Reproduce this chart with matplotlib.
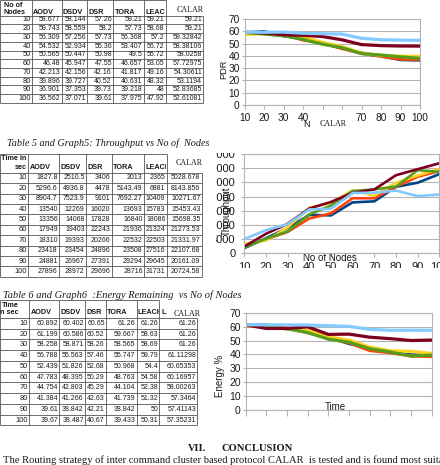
import matplotlib
matplotlib.use("Agg")
import matplotlib.pyplot as plt
from matplotlib.patches import Rectangle
from matplotlib.transforms import Bbox

W, H, DPI = 440, 465, 100
plt.rcParams['font.family'] = ['Liberation Sans', 'DejaVu Sans']

# ---------------- data ----------------
nodes = [10, 20, 30, 40, 50, 60, 70, 80, 90, 100]
protocols = ["AODV", "DSDV", "DSR", "TORA", "LEACH", "CALAR"]
colors = ["#004586", "#ff420e", "#ffd320", "#579d1c", "#7e0021", "#83caff"]

pdr_aodv = [58.677, 59.743, 56.309, 54.532, 50.565, 46.48, 42.213, 39.896, 36.901, 36.562]
pdr_dsdv = [58.144, 58.559, 57.256, 52.934, 50.447, 45.947, 42.156, 39.727, 37.353, 37.071]
pdr_dsr = [57.26, 58.2, 57.73, 55.36, 50.98, 47.55, 42.16, 40.52, 39.73, 39.61]
pdr_tora = [59.21, 57.73, 56.368, 53.407, 49.5, 46.657, 41.817, 40.631, 39.218, 37.975]
pdr_leach = [59.21, 58.68, 57.2, 56.72, 55.72, 53.05, 49.16, 48.32, 48, 47.92]
pdr_calar = [59.21, 59.21, 59.32842, 58.38106, 58.0258, 57.72975, 54.30611, 53.1194, 52.83685, 52.61081]

thr_aodv = [1827.8, 5296.6, 8904.7, 13540, 13356, 17949, 18310, 23418, 24881, 27896]
thr_dsdv = [2510.5, 4936.8, 7523.9, 12269, 14068, 19403, 19393, 23454, 26967, 28972]
thr_dsr = [3406, 4478, 9101, 16020, 17828, 22243, 20266, 24896, 27391, 29696]
thr_tora = [2013, 5143.49, 7692.27, 13693, 16840, 21936, 22532, 23508, 29294, 28716]
thr_leach = [2365, 6881, 10409, 15783, 18086, 21324, 22503, 27516, 29645, 31731]
thr_calar = [5028.678, 8143.856, 10271.67, 15453.43, 15698.35, 21273.53, 21331.97, 22107.68, 20161.09, 20724.58]

en_aodv = [60.892, 61.199, 58.258, 56.788, 52.439, 47.783, 44.754, 41.384, 39.61, 39.67]
en_dsdv = [60.402, 60.586, 58.871, 55.563, 51.826, 48.395, 42.803, 41.266, 38.842, 38.487]
en_dsr = [60.65, 60.52, 58.26, 57.46, 52.68, 50.29, 45.29, 42.63, 42.21, 40.67]
en_tora = [61.26, 59.667, 58.565, 55.747, 50.968, 48.763, 44.104, 41.739, 38.842, 39.433]
en_leach = [61.26, 58.63, 58.69, 59.79, 54.4, 54.58, 52.38, 51.32, 50, 50.31]
en_calar = [61.26, 61.26, 61.26, 61.11298, 60.65353, 60.16957, 58.00263, 57.3464, 57.41143, 57.35231]

pdr_series = [pdr_aodv, pdr_dsdv, pdr_dsr, pdr_tora, pdr_leach, pdr_calar]
thr_series = [thr_aodv, thr_dsdv, thr_dsr, thr_tora, thr_leach, thr_calar]
en_series = [en_aodv, en_dsdv, en_dsr, en_tora, en_leach, en_calar]

pdr_yticks = [0, 10, 20, 30, 40, 50, 60, 70]
thr_yticks = [0, 5000, 10000, 15000, 20000, 25000, 30000, 35000]
en_yticks = [0, 10, 20, 30, 40, 50, 60, 70]

caption5 = "Table 5 and Graph5: Throughput vs No of  Nodes"
caption6 = "Table 6 and Graph6  :Energy Remaining  vs No of Nodes"
concl_head = ("VII.", "CONCLUSION")
concl_text = "The Routing strategy of inter command cluster based protocol CALAR  is tested and is found most suitable"

# ---------------- figure ----------------
fig = plt.figure(figsize=(W / DPI, H / DPI), dpi=DPI)
fig.patch.set_facecolor("white")

ov = fig.add_axes([0, 0, 1, 1], zorder=10)
ov.set_xlim(0, W)
ov.set_ylim(H, 0)
ov.set_autoscale_on(False)
ov.axis("off")

SERIF = ["Liberation Serif", "DejaVu Serif"]
LINE_C = "#555555"
GRID_C = "#b3b3b3"
TXT_C = "#1a1a1a"


def px_axes(left, top, right, bottom):
    return fig.add_axes([left / W, 1 - bottom / H, (right - left) / W, (bottom - top) / H])


def disp_bbox(x0, y0, x1, y1):
    p = ov.transData.transform([[x0, y0], [x1, y1]])
    return Bbox.from_extents(min(p[0][0], p[1][0]), min(p[0][1], p[1][1]),
                             max(p[0][0], p[1][0]), max(p[0][1], p[1][1]))


def fmt(v):
    f = float(v)
    return str(int(f)) if f.is_integer() else repr(f)


renderer = fig.canvas.get_renderer()


def fit_text(x0, x1, y, s, measure=None, **kw):
    t = ov.text(x0, y, s, ha="left", va="center", **kw)
    m = ov.text(x0, y, measure if measure else s, ha="left", va="center", **kw)
    w = m.get_window_extent(renderer).width
    m.remove()
    t.set_fontsize(t.get_fontsize() * (x1 - x0) / w)
    return t


def draw_table(edges, top, hdr_bot, row_h, col0_hdr, hdr_y, series, calar_xy,
               extra_hdr=None, fs=5.0, hfs=5.2):
    n = len(nodes)
    bottom = hdr_bot + n * row_h
    kw = dict(color=LINE_C, lw=0.6, solid_capstyle="butt")
    ov.plot([edges[0], edges[-2]], [top, top], **kw)
    for i in range(n + 1):
        y = hdr_bot + i * row_h
        ov.plot([edges[0], edges[-1]], [y, y], **kw)
    for j, e in enumerate(edges):
        y0 = top if j < len(edges) - 1 else hdr_bot
        ov.plot([e, e], [y0, bottom], **kw)
    for txt, x, y, ha in col0_hdr:
        ov.text(x, y, txt, ha=ha, va="center", fontsize=hfs, fontweight="bold", color=TXT_C)
    for j, name in enumerate(protocols[:5]):
        t = ov.text(edges[j + 1] + 1.2, hdr_y, name, ha="left", va="center",
                    fontsize=hfs, fontweight="bold", color=TXT_C)
        t.set_clip_on(True)
        t.set_clip_path(None)
        t.set_clip_box(disp_bbox(edges[j + 1], top - 2, edges[j + 2] - 0.5, hdr_bot))
    if extra_hdr:
        ov.text(extra_hdr[1], hdr_y, extra_hdr[0], ha="left", va="center",
                fontsize=hfs, fontweight="bold", color=TXT_C)
    ov.text(calar_xy[0], calar_xy[1], protocols[5], ha="center", va="center",
            fontsize=5.8, family=SERIF, color=TXT_C)
    for i, nd in enumerate(nodes):
        yc = hdr_bot + (i + 0.5) * row_h
        ov.text(edges[1] - 1.3, yc, str(nd), ha="right", va="center", fontsize=fs + 0.4, color=TXT_C)
        for j, s in enumerate(series):
            ov.text(edges[j + 2] - 1.3, yc, fmt(s[i]), ha="right", va="center",
                    fontsize=fs, color=TXT_C)


# ---- tables ----
draw_table([0, 32, 61.7, 87.3, 113.3, 144, 165.7, 203.3], 0.5, 15.6, 8.73,
           [("No of", 4, 5.2, "left"), ("Nodes", 4, 12.0, "left")], 12.3,
           pdr_series, (190, 10.5))
draw_table([0, 28.3, 59, 86, 111.7, 144, 166.7, 201.7], 154, 172.7, 10.4,
           [("Time in", 26.5, 158.5, "right"), ("sec", 26.5, 167.8, "right")], 167.8,
           thr_series, (189, 163.3))
draw_table([0, 29.3, 59.3, 85, 106, 136.7, 159.3, 197.3], 300, 318, 10.74,
           [("Time", 19, 305, "right"), ("in sec", 19, 312.5, "right")], 312.5,
           en_series, (187, 314), extra_hdr=("L", 161.5))

# ---- captions / text ----
fit_text(7, 209, 143, caption5, family=SERIF, style="italic", fontsize=7.5, color=TXT_C)
fit_text(3, 240, 295, caption6, family=SERIF, style="italic", fontsize=7.5, color=TXT_C)
ov.text(188, 448, concl_head[0], ha="left", va="center", family=SERIF,
        fontweight="bold", fontsize=7.4, color=TXT_C)
fit_text(222, 293, 448, concl_head[1], family=SERIF, fontweight="bold", fontsize=7.4, color=TXT_C)
fit_text(3, 440, 460.5, concl_text,
         measure="The Routing strategy of inter command cluster based protocol CALAR  is tested and is found most suit",
         family=SERIF, fontsize=7.2, color=TXT_C)


# ---- charts ----
def style_chart(ax, xlim, ylim, yticks, lsize, tlen, labelbottom=True, xpad=2.5, ypad=1.5):
    ax.set_xlim(*xlim)
    ax.set_ylim(*ylim)
    ax.set_xticks(nodes)
    ax.set_yticks(yticks)
    ax.grid(axis="y", color=GRID_C, lw=0.8)
    ax.set_axisbelow(True)
    for s in ax.spines.values():
        s.set_color(GRID_C)
        s.set_linewidth(0.8)
    ax.tick_params(axis="x", direction="out", length=tlen, width=0.8, color=GRID_C,
                   labelsize=lsize, labelcolor=TXT_C, pad=xpad, labelbottom=labelbottom)
    ax.tick_params(axis="y", direction="out", length=2, width=0.8, color=GRID_C,
                   labelsize=lsize, labelcolor=TXT_C, pad=ypad)


def place_labels(ax, xl, xpos, yl, ypos, size):
    ax.set_xlabel(xl, fontsize=size, color=TXT_C)
    ax.set_ylabel(yl, fontsize=size, color=TXT_C)
    ax.xaxis.set_label_coords(xpos[0], xpos[1], transform=ov.transData)
    ax.yaxis.set_label_coords(ypos[0], ypos[1], transform=ov.transData)
    ax.xaxis.label.set(va="center", ha="center")
    ax.yaxis.label.set(va="center", ha="center", rotation_mode="default")


# Graph 4: PDR
ax1 = px_axes(244.5, 19, 420, 105)
for vals, c in zip(pdr_series, colors):
    ax1.plot(nodes, vals, color=c, lw=2.3, solid_joinstyle="round")
style_chart(ax1, (10, 100), (0, 70), pdr_yticks, 7.3, 3, xpad=2.5)
place_labels(ax1, "No of Nodes", (329.5, 124.5), "PDR", (223.5, 69), 6.7)

# Graph 5: Throughput
ax2 = px_axes(244.3, 154, 439.3, 253.3)
for vals, c in zip(thr_series, colors):
    ax2.plot(nodes, vals, color=c, lw=1.9, solid_joinstyle="round")
style_chart(ax2, (10, 100), (0, 35000), thr_yticks, 8.0, 3, xpad=3.0, ypad=4.5)
place_labels(ax2, "No of Nodes", (330, 257.8), "Throughput", (227, 211), 7.0)

# Graph 6: Energy
ax3 = px_axes(245.7, 312.7, 431.7, 410)
for vals, c in zip(en_series, colors):
    ax3.plot(nodes, vals, color=c, lw=2.3, solid_joinstyle="round")
style_chart(ax3, (10, 100), (0, 70), en_yticks, 7.5, 4.5, labelbottom=False)
place_labels(ax3, "Time", (335, 406.5), "Energy %", (220, 376), 7.0)

# ---- crop masks (the pasted graph images are cut off) ----
wk = dict(facecolor="white", edgecolor="none", zorder=0.5)
ov.add_patch(Rectangle((309.5, 111), 46.5, 22, **wk))   # box behind CALAR note in graph 4
ov.add_patch(Rectangle((203.5, 140), 12, 130, **wk))    # left cut of graph 5
ov.add_patch(Rectangle((215, 140), 225, 12.5, **wk))    # top cut of graph 5
ov.add_patch(Rectangle((203.5, 267.5), 236.5, 20, **wk))  # bottom cut of graph 5
ov.text(333, 124, protocols[5], ha="center", va="center", fontsize=5.8,
        family=SERIF, color=TXT_C, zorder=3)

fig.savefig("out.png", dpi=DPI)
